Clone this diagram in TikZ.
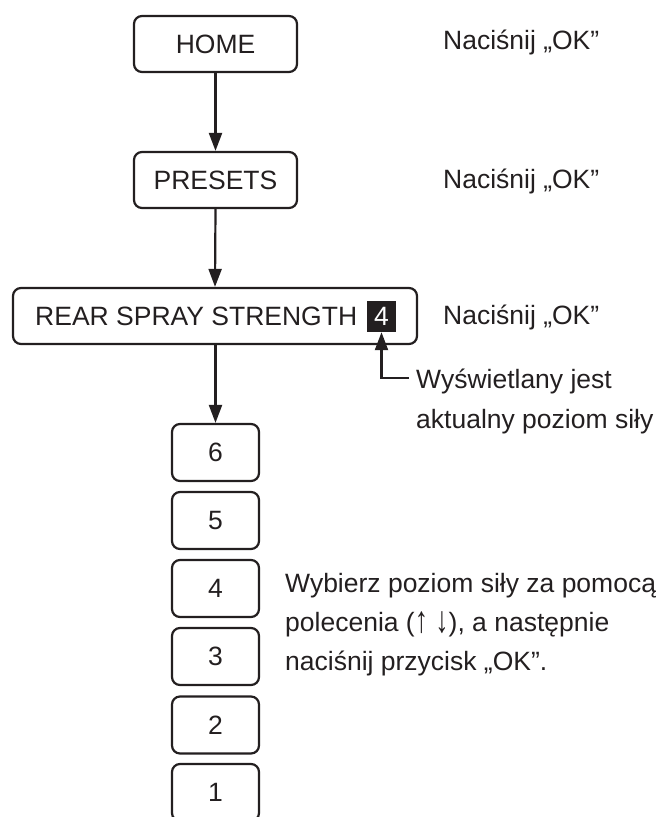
\documentclass[tikz,border=0pt]{standalone}
\usepackage{fontspec}
\usepackage{graphicx}
\setmainfont{Liberation Sans}
\usetikzlibrary{arrows.meta}
\definecolor{ink}{HTML}{231F20}
\newcommand{\tallarrow}[1]{\raisebox{-0.05em}{\scalebox{1}[1.4]{#1}}}
\tikzset{
  box/.style={draw=ink, line width=2.2pt, rounded corners=8pt, inner sep=0pt, text=ink, font=\fontsize{26.5}{30}\selectfont},
  numbox/.style={box, minimum width=87pt, minimum height=57pt},
  lbl/.style={anchor=base west, inner sep=0pt, text=ink, font=\fontsize{26.5}{30}\selectfont},
  conn/.style={draw=ink, line width=2.2pt, -{Triangle[length=18pt,width=13pt]}},
}
\begin{document}
\begin{tikzpicture}[x=1pt,y=-1pt]
\useasboundingbox (0,0) rectangle (661,817);
\clip (0,0) rectangle (661,817);
\node[box, minimum width=163pt, minimum height=56pt] (home) at (215.5,44) {HOME};
\node[box, minimum width=163pt, minimum height=56pt] (presets) at (215.5,180) {PRESETS};
\node[box, minimum width=404pt, minimum height=56pt] (rear) at (215,316) {};
\node[lbl] (reartxt) at (35,325) {REAR SPRAY STRENGTH};
\node[fill=ink, text=white, inner sep=0pt, minimum width=29pt, minimum height=31pt, font=\fontsize{26.5}{30}\selectfont] (blk) at (381.5,316.5) {4};
\node[numbox] (n6) at (215.5,452.5) {6};
\node[numbox] (n5) at (215.5,520.5) {5};
\node[numbox] (n4) at (215.5,588.5) {4};
\node[numbox] (n3) at (215.5,656.5) {3};
\node[numbox] (n2) at (215.5,725) {2};
\node[numbox] (n1) at (215.5,792.5) {1};
\draw[conn] (home.south) -- (presets.north);
\draw[conn] (presets.south) -- (rear.north);
\draw[conn] (rear.south -| n6.north) -- (n6.north);
\coordinate (ind) at (409,378);
\draw[conn] (ind) -| (blk.south);
\node[lbl] (ok1) at (443,49) {Naciśnij „OK”};
\node[lbl] (ok2) at (443,188) {Naciśnij „OK”};
\node[lbl] (ok3) at (443,324) {Naciśnij „OK”};
\node[lbl] (wys) at (416,388) {Wyświetlany jest};
\node[lbl] (akt) at (416,428) {aktualny poziom siły};
\node[lbl] (wyb1) at (285,592) {Wybierz poziom siły za pomocą};
\node[lbl] (wyb2) at (285,631) {polecenia (\tallarrow{↑} \tallarrow{↓}), a następnie};
\node[lbl] (wyb3) at (285,670) {naciśnij przycisk „OK”.};
\end{tikzpicture}
\end{document}
